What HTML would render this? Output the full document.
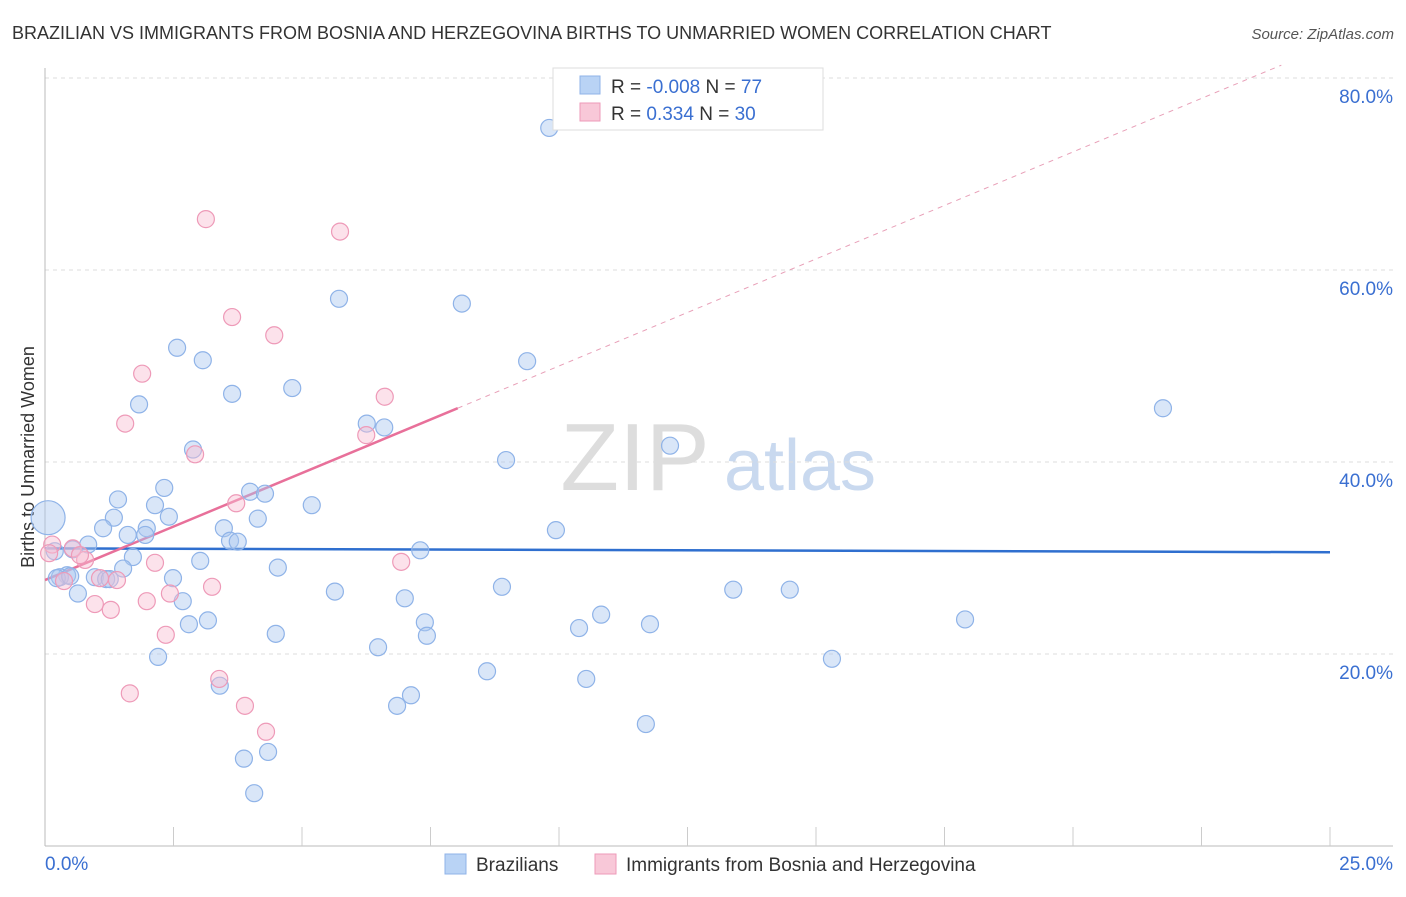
<!DOCTYPE html>
<html><head><meta charset="utf-8"><style>
body{margin:0;background:#fff;font-family:"Liberation Sans",sans-serif;}
svg text{font-family:"Liberation Sans",sans-serif;}
</style></head><body>
<svg id="chart" width="1406" height="892" xmlns="http://www.w3.org/2000/svg">
<text x="12" y="39" font-size="18" fill="#333">BRAZILIAN VS IMMIGRANTS FROM BOSNIA AND HERZEGOVINA BIRTHS TO UNMARRIED WOMEN CORRELATION CHART</text>
<text x="1394" y="39" font-size="15" fill="#555" font-style="italic" text-anchor="end">Source: ZipAtlas.com</text>
<text transform="translate(34,457) rotate(-90)" font-size="18" fill="#333" text-anchor="middle">Births to Unmarried Women</text>
<g><text x="635" y="490" font-size="96" fill="#ddd" font-family="Liberation Serif" text-anchor="middle">ZIP</text><text x="800" y="490" font-size="72" fill="#c9d9ef" text-anchor="middle">atlas</text></g>
<g id="grid"></g><g id="axes"></g><g id="trends"></g><g id="pts"></g>
<g>
<rect x="553" y="68" width="270" height="62" fill="#fff" stroke="#ddd"/>
<rect x="580" y="76" width="20" height="18" fill="#b9d3f5" stroke="#8fb3e8"/>
<text x="611" y="93" font-size="19" fill="#333">R = <tspan fill="#3a6fd1">-0.008</tspan>   N = <tspan fill="#3a6fd1">77</tspan></text>
<rect x="580" y="103" width="20" height="18" fill="#f8c8d8" stroke="#ee9ab8"/>
<text x="611" y="120" font-size="19" fill="#333">R = <tspan fill="#3a6fd1">  0.334</tspan>   N = <tspan fill="#3a6fd1">30</tspan></text>
</g>
<g>
<rect x="445" y="854" width="21" height="20" fill="#b9d3f5" stroke="#8fb3e8"/>
<text x="476" y="871" font-size="19" fill="#333">Brazilians</text>
<rect x="595" y="854" width="21" height="20" fill="#f8c8d8" stroke="#ee9ab8"/>
<text x="626" y="871" font-size="19" fill="#333">Immigrants from Bosnia and Herzegovina</text>
</g>
</svg>
<script>
const blueX=[9.81,5.72,8.11,2.57,3.07,9.38,4.81,3.64,1.83,21.75,6.26,6.60,2.88,12.16,8.97,2.32,3.99,4.28,1.42,5.19,2.14,2.41,1.34,4.14,1.13,1.98,3.48,9.94,1.61,1.95,3.60,3.75,0.84,0.54,0.19,7.30,1.71,3.02,4.53,1.52,0.43,0.29,0.97,1.19,0.23,2.49,8.89,5.64,0.64,13.39,14.49,2.68,7.00,10.82,17.90,7.39,3.17,2.80,11.77,10.39,4.49,7.43,6.48,2.20,15.31,8.60,10.53,3.40,7.12,6.85,11.69,4.34,3.87,4.07,0.06,0.49,1.26];
const blueY=[74.8,57.0,56.5,51.9,50.6,50.5,47.7,47.1,46.0,45.6,44.0,43.6,41.3,41.7,40.2,37.3,36.9,36.7,36.1,35.5,35.5,34.3,34.2,34.1,33.1,33.1,33.1,32.9,32.4,32.4,31.8,31.7,31.4,30.9,30.7,30.8,30.1,29.7,29.0,28.9,28.2,28.0,28.0,27.8,27.9,27.9,27.0,26.5,26.3,26.7,26.7,25.5,25.8,24.1,23.6,23.3,23.5,23.1,23.1,22.7,22.1,21.9,20.7,19.7,19.5,18.2,17.4,16.7,15.7,14.6,12.7,9.8,9.1,5.5,34.2,28.1,27.8];
const pinkX=[3.13,5.74,3.64,4.46,1.89,6.61,1.56,6.25,2.92,3.72,0.14,0.54,0.08,0.78,0.68,2.14,6.93,1.07,1.40,0.37,3.25,2.43,1.98,0.97,1.28,2.35,3.39,1.65,3.89,4.30];
const pinkY=[65.3,64.0,55.1,53.2,49.2,46.8,44.0,42.8,40.8,35.7,31.4,31.0,30.5,29.8,30.3,29.5,29.6,27.9,27.7,27.6,27.0,26.3,25.5,25.2,24.6,22.0,17.4,15.9,14.6,11.9];
const blueTrend=[31.0,30.6];      // y at x=0 and x=25
const pinkTrend=[27.7,2.23];      // intercept, slope
const pinkSolidEnd=8.03;
const yTicks=[20,40,60,80];
const xTickLabels=["0.0%","25.0%"];
const NS="http://www.w3.org/2000/svg";
const X=v=>45+v/25*1285, Y=v=>846-v*9.6;
function mk(tag,attrs,parent){const e=document.createElementNS(NS,tag);for(const k in attrs)e.setAttribute(k,attrs[k]);document.getElementById(parent).appendChild(e);return e;}
yTicks.forEach(t=>{
 const l=mk('line',{x1:45,x2:1393,y1:Y(t),y2:Y(t),stroke:'#ddd','stroke-dasharray':'4,4'},'grid');
 
 
 const tx=mk('text',{x:1393,y:Y(t)+25,'font-size':19,fill:'#3a6fd1','text-anchor':'end'},'grid');tx.textContent=t.toFixed(1)+'%';
 
 
});
const ax=mk('line',{x1:45,x2:45,y1:68,y2:846,stroke:'#bbb'},'axes');


const bx=mk('line',{x1:45,x2:1393,y1:846,y2:846,stroke:'#bbb'},'axes');


for(let i=1;i<=10;i++){const t=mk('line',{x1:X(i*2.5),x2:X(i*2.5),y1:827,y2:846,stroke:'#ccc'},'axes');
 
 }
const l0=mk('text',{x:45,y:870,'font-size':19,fill:'#3a6fd1'},'axes');l0.textContent=xTickLabels[0];


const l1=mk('text',{x:1393,y:870,'font-size':19,fill:'#3a6fd1','text-anchor':'end'},'axes');l1.textContent=xTickLabels[1];


blueX.forEach((x,i)=>{const c=mk('circle',{cx:X(x),cy:Y(blueY[i]),r:(i==74?17:8.5),fill:'rgba(170,200,240,0.45)',stroke:'#8fb3e8','stroke-width':1.2},'pts');
 
 });
pinkX.forEach((x,i)=>{const c=mk('circle',{cx:X(x),cy:Y(pinkY[i]),r:8.5,fill:'rgba(248,190,210,0.45)',stroke:'#ee9ab8','stroke-width':1.2},'pts');
 
 });
const bt=mk('line',{x1:X(0),y1:Y(blueTrend[0]),x2:X(25),y2:Y(blueTrend[1]),stroke:'#2f6fcf','stroke-width':2.5},'trends');


const pf=x=>pinkTrend[0]+pinkTrend[1]*x;
const xEnd=(80-pinkTrend[0])/pinkTrend[1]+0.6;
const pd=mk('line',{x1:X(pinkSolidEnd),y1:Y(pf(pinkSolidEnd)),x2:X(xEnd),y2:Y(pf(xEnd)),stroke:'#e8a0b8','stroke-width':1,'stroke-dasharray':'5,5'},'trends');


const ps=mk('line',{x1:X(0),y1:Y(pf(0)),x2:X(pinkSolidEnd),y2:Y(pf(pinkSolidEnd)),stroke:'#e8709a','stroke-width':2.5},'trends');


</script>
</body></html>
